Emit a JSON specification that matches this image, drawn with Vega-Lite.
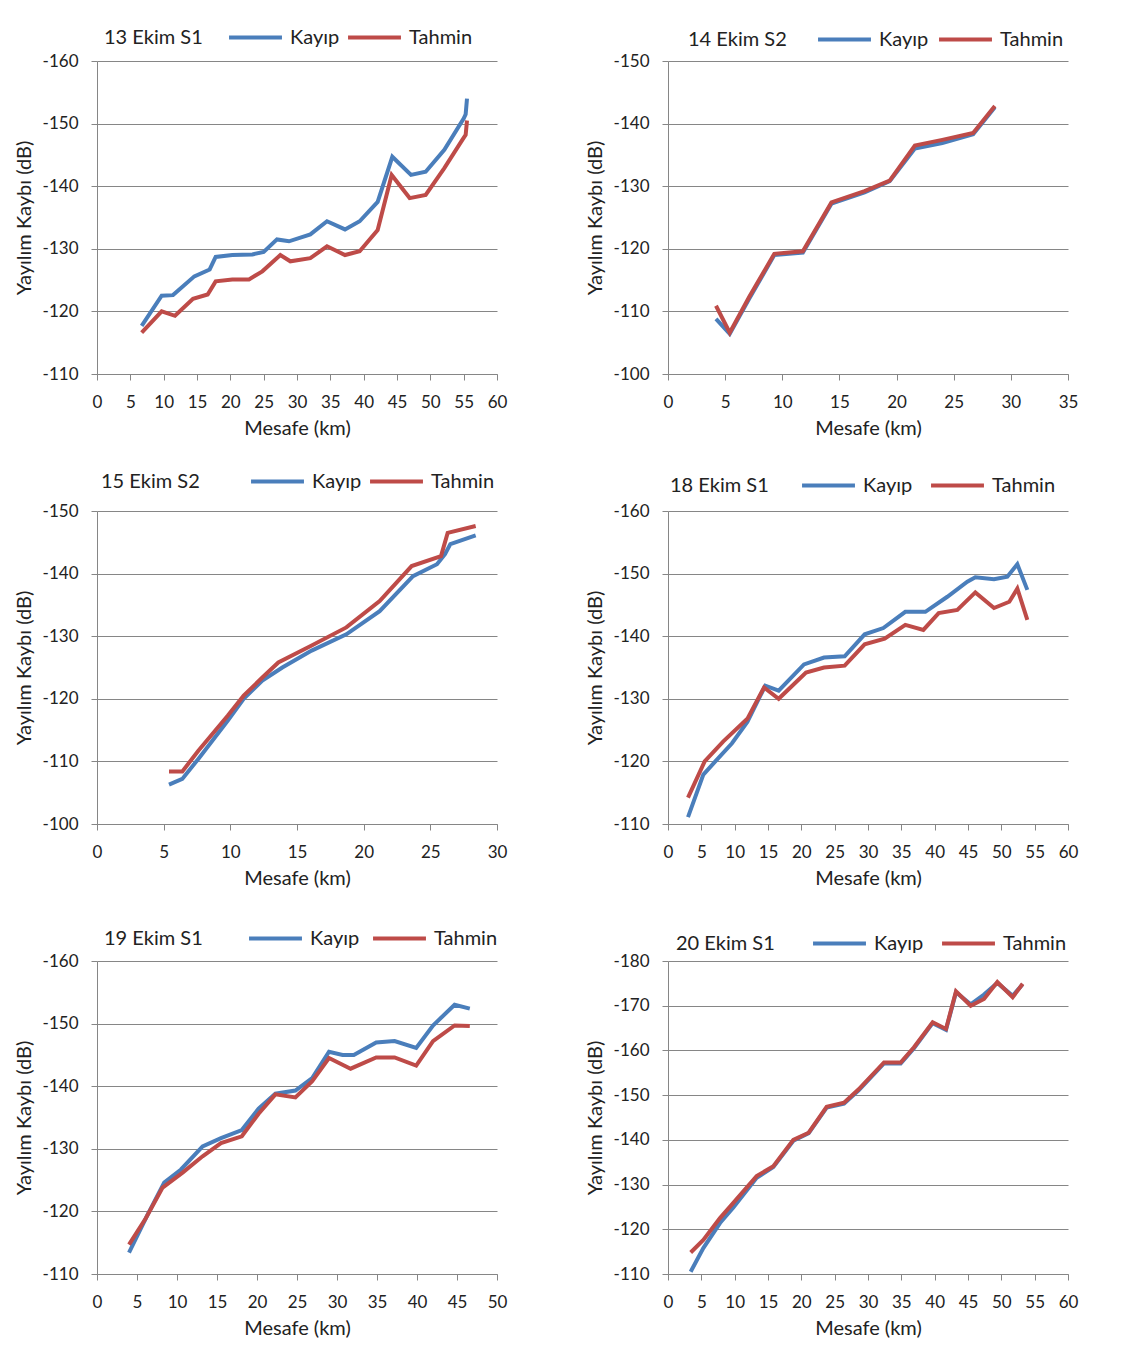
{
 "$schema": "https://vega.github.io/schema/vega-lite/v6.json",
 "background": "white",
 "padding": {"left": 14, "top": 9, "right": 10, "bottom": 10},
 "config": {
  "font": "Lato",
  "view": {"stroke": null},
  "axis": {"domainColor": "#868686", "tickColor": "#868686", "gridColor": "#868686", "labelFont": "Lato", "labelFontSize": 17, "labelColor": "#222222", "titleFont": "Lato", "titleFontSize": 20, "titleFontWeight": "normal", "titleColor": "#222222", "tickSize": 6, "labelFlush": false, "labelOverlap": false, "labelExpr": "'' + datum.value"},
  "axisX": {"grid": false, "labelPadding": 14, "titlePadding": 8},
  "axisY": {"grid": true, "labelPadding": 13, "titlePadding": 8},
  "legend": {"orient": "none", "direction": "horizontal", "gridAlign": "none", "symbolType": "stroke", "symbolSize": 2800, "symbolStrokeWidth": 4, "labelFont": "Lato", "labelFontSize": 20, "labelColor": "#222222", "labelOffset": 6, "columnPadding": 0, "titleOrient": "left", "titleAnchor": "middle", "titleFont": "Lato", "titleFontSize": 20, "titleFontWeight": "normal", "titleColor": "#222222", "titlePadding": 24, "titleBaseline": "top", "padding": 0}
 },
 "data": {"values": [
  {"p":"13","s":"Kayıp","km":6.7,"db":-117.7},{"p":"13","s":"Kayıp","km":9.7,"db":-122.5},{"p":"13","s":"Kayıp","km":11.4,"db":-122.6},{"p":"13","s":"Kayıp","km":14.6,"db":-125.6},{"p":"13","s":"Kayıp","km":16.9,"db":-126.7},{"p":"13","s":"Kayıp","km":17.8,"db":-128.7},{"p":"13","s":"Kayıp","km":20.3,"db":-129.0},{"p":"13","s":"Kayıp","km":23.3,"db":-129.1},{"p":"13","s":"Kayıp","km":25,"db":-129.5},{"p":"13","s":"Kayıp","km":27,"db":-131.5},{"p":"13","s":"Kayıp","km":28.8,"db":-131.2},{"p":"13","s":"Kayıp","km":32,"db":-132.3},{"p":"13","s":"Kayıp","km":34.5,"db":-134.4},{"p":"13","s":"Kayıp","km":37.2,"db":-133.1},{"p":"13","s":"Kayıp","km":39.4,"db":-134.4},{"p":"13","s":"Kayıp","km":42.1,"db":-137.5},{"p":"13","s":"Kayıp","km":44.3,"db":-144.7},{"p":"13","s":"Kayıp","km":47.1,"db":-141.8},{"p":"13","s":"Kayıp","km":49.3,"db":-142.3},{"p":"13","s":"Kayıp","km":52.1,"db":-145.8},{"p":"13","s":"Kayıp","km":55,"db":-150.8},{"p":"13","s":"Kayıp","km":55.3,"db":-151.5},{"p":"13","s":"Kayıp","km":55.5,"db":-154},
  {"p":"13","s":"Tahmin","km":6.7,"db":-116.6},{"p":"13","s":"Tahmin","km":9.7,"db":-120},{"p":"13","s":"Tahmin","km":11.7,"db":-119.3},{"p":"13","s":"Tahmin","km":14.4,"db":-122},{"p":"13","s":"Tahmin","km":16.6,"db":-122.7},{"p":"13","s":"Tahmin","km":17.8,"db":-124.8},{"p":"13","s":"Tahmin","km":20.3,"db":-125.1},{"p":"13","s":"Tahmin","km":22.8,"db":-125.1},{"p":"13","s":"Tahmin","km":24.8,"db":-126.4},{"p":"13","s":"Tahmin","km":27.5,"db":-129},{"p":"13","s":"Tahmin","km":29,"db":-128},{"p":"13","s":"Tahmin","km":32,"db":-128.5},{"p":"13","s":"Tahmin","km":34.5,"db":-130.4},{"p":"13","s":"Tahmin","km":37.2,"db":-129.0},{"p":"13","s":"Tahmin","km":39.4,"db":-129.6},{"p":"13","s":"Tahmin","km":42.1,"db":-133},{"p":"13","s":"Tahmin","km":44.2,"db":-141.8},{"p":"13","s":"Tahmin","km":46.9,"db":-138.1},{"p":"13","s":"Tahmin","km":49.3,"db":-138.6},{"p":"13","s":"Tahmin","km":52.1,"db":-142.9},{"p":"13","s":"Tahmin","km":54.8,"db":-147.4},{"p":"13","s":"Tahmin","km":55.3,"db":-148.2},{"p":"13","s":"Tahmin","km":55.5,"db":-150.5},
  {"p":"14","s":"Kayıp","km":4.2,"db":-108.8},{"p":"14","s":"Kayıp","km":5.4,"db":-106.4},{"p":"14","s":"Kayıp","km":7.1,"db":-112.0},{"p":"14","s":"Kayıp","km":9.3,"db":-119.0},{"p":"14","s":"Kayıp","km":11.8,"db":-119.4},{"p":"14","s":"Kayıp","km":14.3,"db":-127.2},{"p":"14","s":"Kayıp","km":17.2,"db":-129.0},{"p":"14","s":"Kayıp","km":19.4,"db":-130.8},{"p":"14","s":"Kayıp","km":21.6,"db":-136.0},{"p":"14","s":"Kayıp","km":24,"db":-136.9},{"p":"14","s":"Kayıp","km":26.7,"db":-138.3},{"p":"14","s":"Kayıp","km":28.6,"db":-142.6},
  {"p":"14","s":"Tahmin","km":4.2,"db":-110.9},{"p":"14","s":"Tahmin","km":5.4,"db":-106.6},{"p":"14","s":"Tahmin","km":7.1,"db":-112.3},{"p":"14","s":"Tahmin","km":9.3,"db":-119.2},{"p":"14","s":"Tahmin","km":11.8,"db":-119.6},{"p":"14","s":"Tahmin","km":14.3,"db":-127.4},{"p":"14","s":"Tahmin","km":17.2,"db":-129.2},{"p":"14","s":"Tahmin","km":19.4,"db":-130.9},{"p":"14","s":"Tahmin","km":21.6,"db":-136.5},{"p":"14","s":"Tahmin","km":24,"db":-137.4},{"p":"14","s":"Tahmin","km":26.7,"db":-138.5},{"p":"14","s":"Tahmin","km":28.6,"db":-142.8},
  {"p":"15","s":"Kayıp","km":5.4,"db":-106.3},{"p":"15","s":"Kayıp","km":6.4,"db":-107.2},{"p":"15","s":"Kayıp","km":7.6,"db":-110.4},{"p":"15","s":"Kayıp","km":9.8,"db":-116.5},{"p":"15","s":"Kayıp","km":11,"db":-120},{"p":"15","s":"Kayıp","km":12.4,"db":-122.9},{"p":"15","s":"Kayıp","km":13.9,"db":-125},{"p":"15","s":"Kayıp","km":16.1,"db":-127.7},{"p":"15","s":"Kayıp","km":18.7,"db":-130.3},{"p":"15","s":"Kayıp","km":21.2,"db":-134},{"p":"15","s":"Kayıp","km":23.7,"db":-139.6},{"p":"15","s":"Kayıp","km":25.5,"db":-141.5},{"p":"15","s":"Kayıp","km":26.1,"db":-143.1},{"p":"15","s":"Kayıp","km":26.5,"db":-144.7},{"p":"15","s":"Kayıp","km":28.4,"db":-146.1},
  {"p":"15","s":"Tahmin","km":5.4,"db":-108.4},{"p":"15","s":"Tahmin","km":6.4,"db":-108.4},{"p":"15","s":"Tahmin","km":7.6,"db":-111.7},{"p":"15","s":"Tahmin","km":9.8,"db":-117.3},{"p":"15","s":"Tahmin","km":11,"db":-120.5},{"p":"15","s":"Tahmin","km":12.4,"db":-123.4},{"p":"15","s":"Tahmin","km":13.6,"db":-125.8},{"p":"15","s":"Tahmin","km":16.1,"db":-128.5},{"p":"15","s":"Tahmin","km":18.7,"db":-131.4},{"p":"15","s":"Tahmin","km":21.2,"db":-135.6},{"p":"15","s":"Tahmin","km":23.6,"db":-141.2},{"p":"15","s":"Tahmin","km":25.8,"db":-142.8},{"p":"15","s":"Tahmin","km":26.3,"db":-146.5},{"p":"15","s":"Tahmin","km":28.4,"db":-147.6},
  {"p":"18","s":"Kayıp","km":3.0,"db":-111.1},{"p":"18","s":"Kayıp","km":5.3,"db":-117.9},{"p":"18","s":"Kayıp","km":7.1,"db":-120},{"p":"18","s":"Kayıp","km":9.6,"db":-122.9},{"p":"18","s":"Kayıp","km":11.9,"db":-126.3},{"p":"18","s":"Kayıp","km":14.6,"db":-132.1},{"p":"18","s":"Kayıp","km":16.6,"db":-131.3},{"p":"18","s":"Kayıp","km":20.4,"db":-135.5},{"p":"18","s":"Kayıp","km":23.4,"db":-136.6},{"p":"18","s":"Kayıp","km":26.5,"db":-136.8},{"p":"18","s":"Kayıp","km":29.5,"db":-140.3},{"p":"18","s":"Kayıp","km":32.3,"db":-141.3},{"p":"18","s":"Kayıp","km":35.6,"db":-143.9},{"p":"18","s":"Kayıp","km":38.6,"db":-143.9},{"p":"18","s":"Kayıp","km":41.9,"db":-146.3},{"p":"18","s":"Kayıp","km":44.9,"db":-148.7},{"p":"18","s":"Kayıp","km":46.1,"db":-149.4},{"p":"18","s":"Kayıp","km":48.9,"db":-149.1},{"p":"18","s":"Kayıp","km":50.9,"db":-149.5},{"p":"18","s":"Kayıp","km":52.4,"db":-151.5},{"p":"18","s":"Kayıp","km":53.9,"db":-147.4},
  {"p":"18","s":"Tahmin","km":3.0,"db":-114.2},{"p":"18","s":"Tahmin","km":5.5,"db":-120},{"p":"18","s":"Tahmin","km":8.3,"db":-123.2},{"p":"18","s":"Tahmin","km":11.9,"db":-126.8},{"p":"18","s":"Tahmin","km":14.4,"db":-131.8},{"p":"18","s":"Tahmin","km":16.6,"db":-130},{"p":"18","s":"Tahmin","km":20.7,"db":-134.2},{"p":"18","s":"Tahmin","km":23.4,"db":-135},{"p":"18","s":"Tahmin","km":26.5,"db":-135.3},{"p":"18","s":"Tahmin","km":29.5,"db":-138.7},{"p":"18","s":"Tahmin","km":32.5,"db":-139.6},{"p":"18","s":"Tahmin","km":35.6,"db":-141.8},{"p":"18","s":"Tahmin","km":38.3,"db":-141},{"p":"18","s":"Tahmin","km":40.6,"db":-143.7},{"p":"18","s":"Tahmin","km":43.4,"db":-144.2},{"p":"18","s":"Tahmin","km":46.1,"db":-147},{"p":"18","s":"Tahmin","km":48.9,"db":-144.5},{"p":"18","s":"Tahmin","km":51.2,"db":-145.5},{"p":"18","s":"Tahmin","km":52.4,"db":-147.6},{"p":"18","s":"Tahmin","km":53.9,"db":-142.6},
  {"p":"19","s":"Kayıp","km":4,"db":-113.4},{"p":"19","s":"Kayıp","km":6.3,"db":-119.4},{"p":"19","s":"Kayıp","km":8.4,"db":-124.6},{"p":"19","s":"Kayıp","km":10.5,"db":-126.7},{"p":"19","s":"Kayıp","km":13.2,"db":-130.4},{"p":"19","s":"Kayıp","km":15.5,"db":-131.7},{"p":"19","s":"Kayıp","km":18.1,"db":-133},{"p":"19","s":"Kayıp","km":20.2,"db":-136.4},{"p":"19","s":"Kayıp","km":22.3,"db":-138.8},{"p":"19","s":"Kayıp","km":24.8,"db":-139.3},{"p":"19","s":"Kayıp","km":26.9,"db":-141.3},{"p":"19","s":"Kayıp","km":29,"db":-145.5},{"p":"19","s":"Kayıp","km":30.7,"db":-145.0},{"p":"19","s":"Kayıp","km":32.1,"db":-145.0},{"p":"19","s":"Kayıp","km":34.9,"db":-147},{"p":"19","s":"Kayıp","km":37.2,"db":-147.2},{"p":"19","s":"Kayıp","km":39.9,"db":-146.1},{"p":"19","s":"Kayıp","km":42,"db":-149.7},{"p":"19","s":"Kayıp","km":44.7,"db":-153},{"p":"19","s":"Kayıp","km":46.6,"db":-152.4},
  {"p":"19","s":"Tahmin","km":4,"db":-114.7},{"p":"19","s":"Tahmin","km":6.1,"db":-118.9},{"p":"19","s":"Tahmin","km":8.2,"db":-123.8},{"p":"19","s":"Tahmin","km":10.7,"db":-126.2},{"p":"19","s":"Tahmin","km":13.2,"db":-128.8},{"p":"19","s":"Tahmin","km":15.5,"db":-130.9},{"p":"19","s":"Tahmin","km":18.1,"db":-132.0},{"p":"19","s":"Tahmin","km":20.2,"db":-135.6},{"p":"19","s":"Tahmin","km":22.3,"db":-138.7},{"p":"19","s":"Tahmin","km":24.8,"db":-138.2},{"p":"19","s":"Tahmin","km":26.9,"db":-140.8},{"p":"19","s":"Tahmin","km":29,"db":-144.5},{"p":"19","s":"Tahmin","km":31.7,"db":-142.8},{"p":"19","s":"Tahmin","km":34.9,"db":-144.6},{"p":"19","s":"Tahmin","km":37.2,"db":-144.6},{"p":"19","s":"Tahmin","km":39.9,"db":-143.3},{"p":"19","s":"Tahmin","km":42,"db":-147.2},{"p":"19","s":"Tahmin","km":44.7,"db":-149.7},{"p":"19","s":"Tahmin","km":46.6,"db":-149.6},
  {"p":"20","s":"Kayıp","km":3.4,"db":-110.5},{"p":"20","s":"Kayıp","km":5.3,"db":-115.8},{"p":"20","s":"Kayıp","km":7.8,"db":-121.4},{"p":"20","s":"Kayıp","km":9.8,"db":-124.9},{"p":"20","s":"Kayıp","km":13.3,"db":-131.5},{"p":"20","s":"Kayıp","km":15.8,"db":-133.9},{"p":"20","s":"Kayıp","km":18.8,"db":-139.8},{"p":"20","s":"Kayıp","km":21.1,"db":-141.5},{"p":"20","s":"Kayıp","km":23.8,"db":-147.2},{"p":"20","s":"Kayıp","km":26.4,"db":-148.1},{"p":"20","s":"Kayıp","km":28.6,"db":-151.1},{"p":"20","s":"Kayıp","km":32.4,"db":-157.1},{"p":"20","s":"Kayıp","km":34.9,"db":-157.1},{"p":"20","s":"Kayıp","km":36.9,"db":-160.5},{"p":"20","s":"Kayıp","km":39.7,"db":-166.1},{"p":"20","s":"Kayıp","km":41.7,"db":-164.6},{"p":"20","s":"Kayıp","km":43.2,"db":-173.0},{"p":"20","s":"Kayıp","km":45.4,"db":-170.3},{"p":"20","s":"Kayıp","km":47.4,"db":-172.5},{"p":"20","s":"Kayıp","km":49.4,"db":-175.1},{"p":"20","s":"Kayıp","km":51.7,"db":-172.2},{"p":"20","s":"Kayıp","km":53.2,"db":-174.8},
  {"p":"20","s":"Tahmin","km":3.4,"db":-114.8},{"p":"20","s":"Tahmin","km":5.3,"db":-117.6},{"p":"20","s":"Tahmin","km":7.8,"db":-122.5},{"p":"20","s":"Tahmin","km":9.8,"db":-125.9},{"p":"20","s":"Tahmin","km":13.3,"db":-131.9},{"p":"20","s":"Tahmin","km":15.8,"db":-134.1},{"p":"20","s":"Tahmin","km":18.8,"db":-140.0},{"p":"20","s":"Tahmin","km":21.1,"db":-141.6},{"p":"20","s":"Tahmin","km":23.8,"db":-147.4},{"p":"20","s":"Tahmin","km":26.4,"db":-148.3},{"p":"20","s":"Tahmin","km":28.6,"db":-151.3},{"p":"20","s":"Tahmin","km":32.4,"db":-157.3},{"p":"20","s":"Tahmin","km":34.9,"db":-157.3},{"p":"20","s":"Tahmin","km":36.9,"db":-160.7},{"p":"20","s":"Tahmin","km":39.7,"db":-166.3},{"p":"20","s":"Tahmin","km":41.7,"db":-164.8},{"p":"20","s":"Tahmin","km":43.2,"db":-173.2},{"p":"20","s":"Tahmin","km":45.4,"db":-170.0},{"p":"20","s":"Tahmin","km":47.4,"db":-171.5},{"p":"20","s":"Tahmin","km":49.4,"db":-175.3},{"p":"20","s":"Tahmin","km":51.7,"db":-171.9},{"p":"20","s":"Tahmin","km":53.2,"db":-174.9}
 ]},
 "columns": 2,
 "bounds": "flush",
 "spacing": {"row": 137, "column": 171},
 "resolve": {"scale": {"color": "independent", "x": "independent", "y": "independent"}, "legend": {"color": "independent"}},
 "concat": [
  {"width": 400, "height": 313, "transform": [{"filter": "datum.p == '13'"}], "mark": {"type": "line", "strokeWidth": 4},
   "encoding": {
    "x": {"field": "km", "type": "quantitative", "title": "Mesafe (km)", "scale": {"domain": [0, 60], "nice": false}, "axis": {"values": [0,5,10,15,20,25,30,35,40,45,50,55,60]}},
    "y": {"field": "db", "type": "quantitative", "title": "Yayılım Kaybı (dB)", "scale": {"domain": [-160, -110], "reverse": true, "nice": false}, "axis": {"values": [-160,-150,-140,-130,-120,-110]}},
    "color": {"field": "s", "type": "nominal", "scale": {"domain": ["Kayıp", "Tahmin"], "range": ["#4A7EBB", "#BE4B48"]}, "legend": {"title": "13 Ekim S1", "legendX": 7, "legendY": -52}}
   }},
  {"width": 400, "height": 313, "transform": [{"filter": "datum.p == '14'"}], "mark": {"type": "line", "strokeWidth": 4},
   "encoding": {
    "x": {"field": "km", "type": "quantitative", "title": "Mesafe (km)", "scale": {"domain": [0, 35], "nice": false}, "axis": {"values": [0,5,10,15,20,25,30,35]}},
    "y": {"field": "db", "type": "quantitative", "title": "Yayılım Kaybı (dB)", "scale": {"domain": [-150, -100], "reverse": true, "nice": false}, "axis": {"values": [-150,-140,-130,-120,-110,-100]}},
    "color": {"field": "s", "type": "nominal", "scale": {"domain": ["Kayıp", "Tahmin"], "range": ["#4A7EBB", "#BE4B48"]}, "legend": {"title": "14 Ekim S2", "legendX": 20, "legendY": -50, "titlePadding": 29, "columnPadding": 2}}
   }},
  {"width": 400, "height": 313, "transform": [{"filter": "datum.p == '15'"}], "mark": {"type": "line", "strokeWidth": 4},
   "encoding": {
    "x": {"field": "km", "type": "quantitative", "title": "Mesafe (km)", "scale": {"domain": [0, 30], "nice": false}, "axis": {"values": [0,5,10,15,20,25,30]}},
    "y": {"field": "db", "type": "quantitative", "title": "Yayılım Kaybı (dB)", "scale": {"domain": [-150, -100], "reverse": true, "nice": false}, "axis": {"values": [-150,-140,-130,-120,-110,-100]}},
    "color": {"field": "s", "type": "nominal", "scale": {"domain": ["Kayıp", "Tahmin"], "range": ["#4A7EBB", "#BE4B48"]}, "legend": {"title": "15 Ekim S2", "legendX": 4, "legendY": -58, "titlePadding": 49}}
   }},
  {"width": 400, "height": 313, "transform": [{"filter": "datum.p == '18'"}], "mark": {"type": "line", "strokeWidth": 4},
   "encoding": {
    "x": {"field": "km", "type": "quantitative", "title": "Mesafe (km)", "scale": {"domain": [0, 60], "nice": false}, "axis": {"values": [0,5,10,15,20,25,30,35,40,45,50,55,60]}},
    "y": {"field": "db", "type": "quantitative", "title": "Yayılım Kaybı (dB)", "scale": {"domain": [-160, -110], "reverse": true, "nice": false}, "axis": {"values": [-160,-150,-140,-130,-120,-110]}},
    "color": {"field": "s", "type": "nominal", "scale": {"domain": ["Kayıp", "Tahmin"], "range": ["#4A7EBB", "#BE4B48"]}, "legend": {"title": "18 Ekim S1", "legendX": 2, "legendY": -54, "titlePadding": 31, "columnPadding": 10}}
   }},
  {"width": 400, "height": 313, "transform": [{"filter": "datum.p == '19'"}], "mark": {"type": "line", "strokeWidth": 4},
   "encoding": {
    "x": {"field": "km", "type": "quantitative", "title": "Mesafe (km)", "scale": {"domain": [0, 50], "nice": false}, "axis": {"values": [0,5,10,15,20,25,30,35,40,45,50]}},
    "y": {"field": "db", "type": "quantitative", "title": "Yayılım Kaybı (dB)", "scale": {"domain": [-160, -110], "reverse": true, "nice": false}, "axis": {"values": [-160,-150,-140,-130,-120,-110]}},
    "color": {"field": "s", "type": "nominal", "scale": {"domain": ["Kayıp", "Tahmin"], "range": ["#4A7EBB", "#BE4B48"]}, "legend": {"title": "19 Ekim S1", "legendX": 7, "legendY": -51, "titlePadding": 44, "columnPadding": 5}}
   }},
  {"width": 400, "height": 313, "transform": [{"filter": "datum.p == '20'"}], "mark": {"type": "line", "strokeWidth": 4},
   "encoding": {
    "x": {"field": "km", "type": "quantitative", "title": "Mesafe (km)", "scale": {"domain": [0, 60], "nice": false}, "axis": {"values": [0,5,10,15,20,25,30,35,40,45,50,55,60]}},
    "y": {"field": "db", "type": "quantitative", "title": "Yayılım Kaybı (dB)", "scale": {"domain": [-180, -110], "reverse": true, "nice": false}, "axis": {"values": [-180,-170,-160,-150,-140,-130,-120,-110]}},
    "color": {"field": "s", "type": "nominal", "scale": {"domain": ["Kayıp", "Tahmin"], "range": ["#4A7EBB", "#BE4B48"]}, "legend": {"title": "20 Ekim S1", "legendX": 8, "legendY": -46, "titlePadding": 36, "columnPadding": 10}}
   }}
 ]
}
